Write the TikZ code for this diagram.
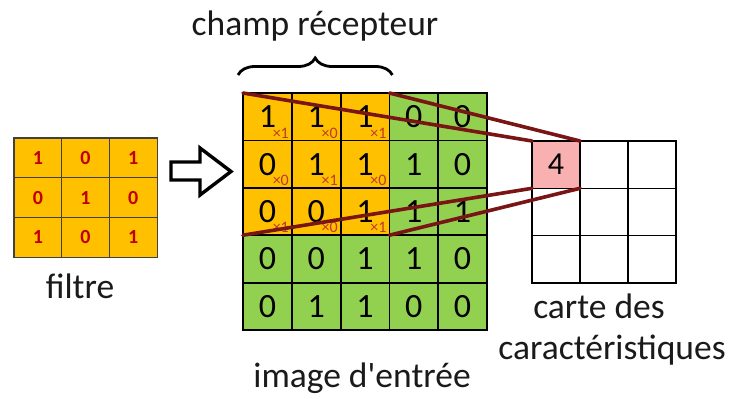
\documentclass[tikz,border=0pt]{standalone}
\usepackage{fontspec}
\setmainfont{Carlito}
\newfontfamily\plaincarlito{Carlito}[Ligatures=TeXOff]
\usetikzlibrary{decorations.pathreplacing}
\definecolor{cellorange}{HTML}{FFC000}
\definecolor{cellgreen}{HTML}{92D050}
\definecolor{cellpink}{HTML}{F8B0B0}
\definecolor{wtred}{HTML}{C0392B}
\definecolor{fltred}{HTML}{C00000}
\definecolor{linkred}{HTML}{7A1515}
\definecolor{txt}{HTML}{1A1A1A}

\begin{document}
\begin{tikzpicture}[x=1pt,y=-1pt,
  incell/.style={draw=black, line width=1.8pt, minimum width=48.8pt, minimum height=47.4pt,
    inner sep=0pt, outer sep=0pt, anchor=north west, text=black,
    font=\fontsize{34}{38}\selectfont},
  fcell/.style={draw=black!75, line width=1.2pt, fill=cellorange, minimum width=47.7pt,
    minimum height=39.8pt, inner sep=0pt, outer sep=0pt, anchor=north west,
    text=fltred, font=\fontsize{20}{22}\selectfont\bfseries},
  mapcell/.style={draw=black, line width=1.5pt, minimum width=48pt, minimum height=47.3pt,
    inner sep=0pt, outer sep=0pt, anchor=north west, text=black,
    font=\fontsize{32}{36}\selectfont},
  weight/.style={inner sep=0pt, text=wtred, font=\fontsize{16}{17}\selectfont},
  caption/.style={inner sep=0pt, anchor=base, text=txt, font=\plaincarlito\fontsize{35.5}{40}\selectfont},
  link/.style={draw=linkred, line width=3.6pt, line cap=round},
]
\useasboundingbox (0,0) rectangle (734,399);

% filter 3x3
\foreach \v [count=\k from 0] in {1,0,1, 0,1,0, 1,0,1}{
  \pgfmathtruncatemacro{\r}{\k/3}
  \pgfmathtruncatemacro{\c}{mod(\k,3)}
  \node[fcell] (f-\r-\c) at (14+\c*47.7, 138+\r*39.8) {\v};
}
\node[caption] (filtre) at (80,298) {filtre};

% hollow arrow
\draw[line width=3.4pt, line join=miter, fill=white]
  (171,162) -- (200,162) -- (200,148) -- (231,171.5) -- (200,195) -- (200,180) -- (171,180) -- cycle;

% input image 5x5
\foreach \v [count=\k from 0] in {1,1,1,0,0, 0,1,1,1,0, 0,0,1,1,1, 0,0,1,1,0, 0,1,1,0,0}{
  \pgfmathtruncatemacro{\r}{\k/5}
  \pgfmathtruncatemacro{\c}{mod(\k,5)}
  \ifnum\r<3 \ifnum\c<3 \def\fc{cellorange}\else\def\fc{cellgreen}\fi\else\def\fc{cellgreen}\fi
  \node[incell, fill=\fc] (in-\r-\c) at (243+\c*48.8, 93+\r*47.4) {\v};
}
% filter weights on the receptive field
\foreach \w [count=\k from 0] in {1,0,1, 0,1,0, 1,0,1}{
  \pgfmathtruncatemacro{\r}{\k/3}
  \pgfmathtruncatemacro{\c}{mod(\k,3)}
  \node[weight] (w-\r-\c) at ([shift={(-11,-7.5)}]in-\r-\c.south east) {×\w};
}
\node[caption] (entree) at (362,387) {image d'entrée};

% brace and its label
\draw[line width=2.8pt, decorate, decoration={brace, amplitude=17pt}]
  ([shift={(-5,-18)}]in-0-0.north west) -- ([shift={(3,-18)}]in-0-2.north east);
\node[caption] (champ) at (315,35) {champ récepteur};

% feature map 3x3
\foreach \r in {0,1,2}{
  \foreach \c in {0,1,2}{
    \node[mapcell] (fm-\r-\c) at (532+\c*48, 141+\r*47.3) {};
  }
}
\node[mapcell, fill=cellpink] (fm-0-0) at (532,141) {4};
\node[caption] (carte) at (599,318) {carte des};
\node[caption] (caract) at (612,359) {caractéristiques};

% receptive field projected onto the map
\draw[link] (in-0-0.north west) -- (fm-0-0.north west);
\draw[link] (in-0-2.north east) -- (fm-0-0.north east);
\draw[link] (in-2-0.south west) -- (fm-0-0.south west);
\draw[link] (in-2-2.south east) -- (fm-0-0.south east);
\end{tikzpicture}
\end{document}
